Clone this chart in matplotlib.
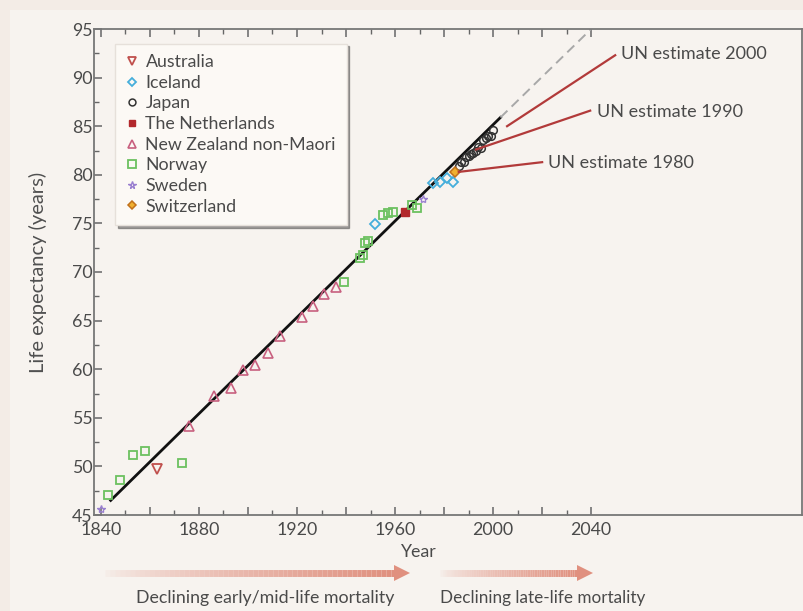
import numpy as np
import matplotlib
matplotlib.use('Agg')
import matplotlib.pyplot as plt
from matplotlib.patches import Rectangle, Polygon
from matplotlib.collections import LineCollection
from matplotlib.ticker import MultipleLocator, FixedLocator

plt.rcParams['font.family'] = ['Lato', 'DejaVu Sans']

# record female life expectancy
australia_years = [1863]
australia_le = [49.7]

iceland_years = [1952, 1975.5, 1978.4, 1981.2, 1983.7]
iceland_le = [74.9, 79.2, 79.3, 79.7, 79.3]

japan_years = [1986, 1987, 1988, 1989, 1990, 1991, 1992, 1993, 1994, 1995, 1996, 1997, 1998, 1999, 2000]
japan_le = [80.9, 81.3, 81.3, 81.8, 81.9, 82.1, 82.2, 82.5, 82.9, 82.8, 83.6, 83.8, 84.0, 84.0, 84.6]

netherlands_years = [1964]
netherlands_le = [76.2]

nz_years = [1876, 1886, 1893, 1898, 1903, 1908, 1913, 1922, 1926.5, 1931, 1936]
nz_le = [54.2, 57.2, 58.1, 59.9, 60.4, 61.7, 63.4, 65.4, 66.5, 67.7, 68.5]

norway_years = [1843, 1848, 1853, 1858, 1873, 1939, 1945.7, 1947, 1947.8, 1949,
                1955, 1957, 1959, 1967, 1969]
norway_le = [47.1, 48.6, 51.2, 51.6, 50.3, 69.0, 71.4, 71.7, 73.0, 73.2,
             75.9, 76.1, 76.2, 76.9, 76.6]

sweden_years = [1840, 1971.5]
sweden_le = [45.6, 77.5]

switzerland_years = [1984.5]
switzerland_le = [80.3]

# linear trend of best practice
trend_years = [1844, 2003]
trend_le = [46.5, 85.9]
trend_ext_years = [2003, 2040]
trend_ext_le = [85.9, 95.0]

# UN projections
un_labels = ['UN estimate 2000', 'UN estimate 1990', 'UN estimate 1980']
un_start_years = [2005.7, 1993, 1986]
un_start_le = [85.0, 82.6, 80.3]
un_end_years = [2049.8, 2039.6, 2020]
un_end_le = [92.3, 86.6, 81.3]

fig = plt.figure(figsize=(8.04, 6.11), dpi=100)
fig.patch.set_facecolor('#f3ece6')

# background layer in pixel coordinates
bg = fig.add_axes([0, 0, 1, 1], zorder=-5)
bg.set_xlim(0, 804)
bg.set_ylim(611, 0)
bg.axis('off')
bg.add_patch(Rectangle((10, 10), 800, 610, facecolor='#f7f3ef', edgecolor='none'))


def gradient_arrow(x0, x1, y, color):
    n = 60
    xs = np.linspace(x0, x1 - 14, n + 1)
    segs = [[(xs[i], y), (xs[i + 1], y)] for i in range(n)]
    rgba = np.array([matplotlib.colors.to_rgba(color)] * n)
    rgba[:, 3] = np.linspace(0.0, 1.0, n) ** 0.7
    bg.add_collection(LineCollection(segs, colors=rgba, linewidths=5, capstyle='butt'))
    bg.add_patch(Polygon([(x1 - 16, y - 8), (x1, y), (x1 - 16, y + 8)],
                         closed=True, facecolor=color, edgecolor='none'))


gradient_arrow(100, 410, 573, '#e0907f')
gradient_arrow(438, 593, 573, '#e0907f')
bg.text(265, 598, 'Declining early/mid-life mortality', fontsize=12.8, color='#4a4a4a',
        ha='center', va='center')
bg.text(440, 598, 'Declining late-life mortality', fontsize=12.3, color='#4a4a4a',
        ha='left', va='center')

ax = fig.add_axes([94 / 804, 1 - 515 / 611, 708 / 804, 486 / 611])
ax.set_facecolor('none')
ax.set_xlim(1837.2, 2126)
ax.set_ylim(45, 95)

ax.plot(trend_years, trend_le, color='#111111', lw=2, zorder=2)
ax.plot(trend_ext_years, trend_ext_le, color='#a8a8a8', lw=1.4, ls=(0, (5, 3)), zorder=2)

for sy, sl, ey, el in zip(un_start_years, un_start_le, un_end_years, un_end_le):
    ax.plot([sy, ey], [sl, el], color='#b23a3a', lw=1.6, zorder=4)

label_pos = [(2052, 92.4), (2042.5, 86.5), (2022.5, 81.2)]
for lab, (lx, ly) in zip(un_labels, label_pos):
    ax.text(lx, ly, lab, fontsize=13, color='#4a4a4a', ha='left', va='center')

ms = 5.5
ax.plot(australia_years, australia_le, ls='none', marker='v', ms=ms + 1, mfc='none',
        mec='#c0504d', mew=1.3, label='Australia', zorder=3)
ax.plot(iceland_years, iceland_le, ls='none', marker='D', ms=ms - 0.5, mfc='none',
        mec='#45aedb', mew=1.3, label='Iceland', zorder=3)
ax.plot(japan_years, japan_le, ls='none', marker='o', ms=ms, mfc='none',
        mec='#333333', mew=1.1, label='Japan', zorder=3)
ax.plot(netherlands_years, netherlands_le, ls='none', marker='s', ms=ms, mfc='#b2282c',
        mec='#b2282c', label='The Netherlands', zorder=3)
ax.plot(nz_years, nz_le, ls='none', marker='^', ms=ms + 1, mfc='none',
        mec='#c8607f', mew=1.2, label='New Zealand non-Maori', zorder=3)
ax.plot(norway_years, norway_le, ls='none', marker='s', ms=ms + 0.5, mfc='none',
        mec='#6cc160', mew=1.3, label='Norway', zorder=3)
ax.plot(sweden_years, sweden_le, ls='none', marker='*', ms=ms + 0.5, mfc='none',
        mec='#9a80d0', mew=1.0, label='Sweden', zorder=3)
ax.plot(switzerland_years, switzerland_le, ls='none', marker='D', ms=ms - 0.5, mfc='#f0b030',
        mec='#c0701a', mew=1.1, label='Switzerland', zorder=3)

leg = ax.legend(loc='upper left', bbox_to_anchor=(0.03, 0.97), borderaxespad=0,
                fontsize=12.8, handlelength=0.7, handletextpad=0.4, labelspacing=0.26,
                borderpad=0.6, fancybox=False, shadow=True, frameon=True,
                markerscale=0.9)
leg.get_frame().set_facecolor('#fcf9f5')
leg.get_frame().set_edgecolor('#e6e0da')
for t in leg.get_texts():
    t.set_color('#4a4a4a')

# ticks
ax.xaxis.set_major_locator(FixedLocator(np.arange(1840, 2041, 20)))
ax.xaxis.set_minor_locator(FixedLocator(np.arange(1840, 2041, 10)))
ax.set_xticks(np.arange(1840, 2041, 20))
ax.set_xticklabels([str(y) if y % 40 == 0 else '' for y in range(1840, 2041, 20)])
ax.yaxis.set_major_locator(MultipleLocator(5))
ax.yaxis.set_minor_locator(MultipleLocator(2.5))
ax.tick_params(which='both', direction='in', top=True, right=False, colors='#666666',
               labelcolor='#4a4a4a', labelsize=12.8)
ax.tick_params(which='major', length=6, width=1.1)
ax.tick_params(which='minor', length=3.5, width=1.0)
ax.tick_params(axis='x', pad=5)
ax.tick_params(axis='y', pad=1)
for s in ax.spines.values():
    s.set_color('#777777')
    s.set_linewidth(1.3)

fig.text(418 / 804, 1 - 552 / 611, 'Year', fontsize=12.8, color='#4a4a4a', ha='center', va='center')
fig.text(38 / 804, 1 - 272 / 611, 'Life expectancy (years)', fontsize=14.5, color='#505050',
         ha='center', va='center', rotation=90)

fig.savefig('out.png', dpi=100, facecolor=fig.get_facecolor())
